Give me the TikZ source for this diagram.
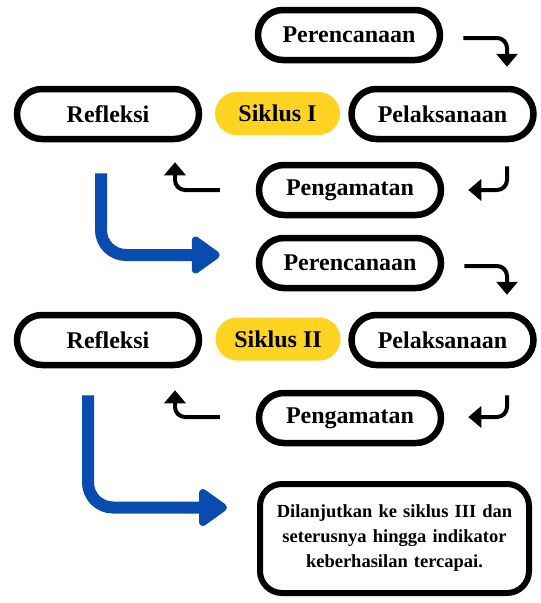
\documentclass[tikz,border=0pt]{standalone}
\usepackage{fontspec}
\setmainfont{Liberation Serif}
\usetikzlibrary{arrows.meta,calc}
\definecolor{sikyellow}{HTML}{FFD321}
\definecolor{flowblue}{HTML}{0A4BAF}
\tikzset{
  pill/.style={draw=black, line width=6.5pt, rounded corners=25pt, minimum width=182pt,
    minimum height=50pt, inner sep=0pt, font=\bfseries\fontsize{24}{28}\selectfont},
  siklus/.style={fill=sikyellow, rounded corners=21.5pt, minimum width=125pt,
    minimum height=43pt, inner sep=0pt, font=\bfseries\fontsize{24}{28}\selectfont},
  finalbox/.style={draw=black, line width=6pt, rounded corners=22pt, minimum width=269pt,
    minimum height=109pt, inner sep=0pt, align=center, text width=262pt,
    font=\bfseries\fontsize{18.5}{25}\selectfont},
  blackarrow/.style={draw=black, line width=4pt, rounded corners=10pt,
    -{Triangle[length=13pt,width=21pt]}},
  bluearrow/.style={draw=flowblue, line width=12pt, rounded corners=25pt,
    -{Triangle[length=31pt,width=42pt,round]}}
}
\begin{document}
\begin{tikzpicture}[x=1pt,y=-1pt]
\useasboundingbox (0,0) rectangle (541,603);
% Siklus I
\node[pill] (per1) at (349,35) {Perencanaan};
\node[pill] (ref1) at (108,114) {Refleksi};
\node[siklus] (sik1) at (277.5,113.5) {Siklus I};
\node[pill] (pel1) at (442.5,114) {Pelaksanaan};
\node[pill] (pen1) at (350,190) {Pengamatan};
% Siklus II
\node[pill] (per2) at (350,263) {Perencanaan};
\node[pill] (ref2) at (108,340) {Refleksi};
\node[siklus] (sik2) at (278,339) {Siklus II};
\node[pill] (pel2) at (442.5,340) {Pelaksanaan};
\node[pill] (pen2) at (350,418) {Pengamatan};
% final
\node[finalbox] (fin) at (394.5,538.5) {Dilanjutkan ke siklus III dan\\seterusnya hingga indikator\\keberhasilan tercapai.};
% arrows cycle I
\draw[blackarrow] ($(per1.east)+(20,3)$) -| ($(pel1.north)+(64.5,-19)$);
\draw[blackarrow] ($(pel1.south)+(64.5,24)$) |- ($(pen1.east)+(24,0)$);
\draw[blackarrow] ($(pen1.west)+(-36,0)$) -| ($(ref1.south)+(67,20)$);
\draw[bluearrow] ($(ref1.south)+(-7,31)$) |- ($(per2.west)+(-36,-8)$);
% arrows cycle II
\draw[blackarrow] ($(per2.east)+(20,3)$) -| ($(pel2.north)+(64.5,-17)$);
\draw[blackarrow] ($(pel2.south)+(64.5,27)$) |- ($(pen2.east)+(24,-1)$);
\draw[blackarrow] ($(pen2.west)+(-36,-1)$) -| ($(ref2.south)+(67,22)$);
\draw[bluearrow] ($(ref2.south)+(-20,27)$) |- ($(fin.west)+(-30,-31)$);
\end{tikzpicture}
\end{document}
